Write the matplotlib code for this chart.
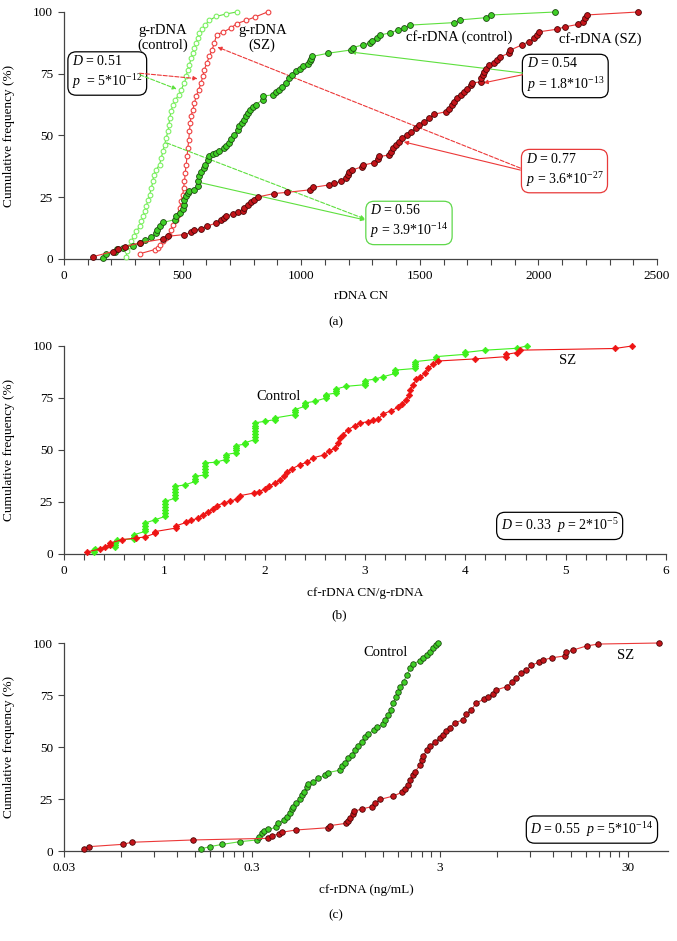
import matplotlib.pyplot as plt
from matplotlib.ticker import FixedLocator, NullFormatter, FixedFormatter

plt.rcParams['font.family'] = ['Liberation Serif', 'DejaVu Serif']
plt.rcParams['mathtext.fontset'] = 'custom'
plt.rcParams['mathtext.rm'] = 'Liberation Serif'
plt.rcParams['mathtext.it'] = 'Liberation Serif:italic'

# ===== DATA =====
# panel (a): rDNA copy number vs cumulative frequency (%)
g_ctrl_x = [263, 265, 277, 284, 294, 305, 319, 326, 333, 340, 347, 354, 361, 368, 375,
            378, 389, 403, 410, 417, 424, 431, 438, 443, 445, 452, 459, 470, 484, 494,
            508, 515, 522, 529, 536, 543, 550, 557, 564, 571, 582, 596, 613, 641, 683, 728]
g_ctrl_y = [1, 3.1, 5.1, 7.2, 9.2, 11.2, 13.2, 15.2, 17.3, 19.3, 21.3, 24, 26, 28.7, 31.4,
            34.1, 36.2, 38.2, 40.9, 43.6, 46.3, 49, 51.7, 54.4, 57.1, 59.8, 62.5, 64.5, 66.5, 68.6,
            71.3, 74, 76.7, 78.7, 81.4, 83.4, 85.4, 87.4, 89.5, 91.5, 93.1, 94.9, 96.6, 98.2, 99.2, 100]

g_sz_x = [322, 382, 396, 406, 417, 431, 443, 452, 459, 473, 480, 487, 494, 501, 504,
          508, 511, 515, 519, 522, 526, 529, 532, 536, 543, 550, 557, 568, 578, 585,
          592, 602, 613, 624, 634, 643, 669, 704, 728, 767, 806, 858]
g_sz_y = [2.2, 3.8, 4.5, 5.8, 7.2, 8.5, 9.9, 11.9, 13.9, 15.9, 17.9, 20.6, 23.3, 26, 28.7,
          31.4, 34.8, 38.2, 41.6, 44.9, 48.3, 51.7, 55.1, 57.8, 60.5, 63.2, 65.9, 68.6, 71.3, 74,
          76.7, 79.4, 82, 84.7, 87.4, 90.8, 91.8, 93.5, 95.3, 96.6, 98, 100]

cf_ctrl_x = [166, 177, 215, 222, 250, 291, 319, 340, 368, 389, 393, 403, 417, 466, 473,
             487, 501, 508, 508, 515, 522, 529, 550, 564, 566, 571, 578, 592, 596, 606,
             613, 627, 641, 655, 676, 683, 697, 704, 718, 732, 739, 750, 760, 767, 774,
             784, 795, 809, 837, 837, 882, 893, 907, 921, 935, 949, 963, 977, 994, 1008,
             1029, 1036, 1043, 1046, 1113, 1208, 1218, 1260, 1288, 1298, 1320, 1334, 1376, 1407, 1435,
             1460, 1645, 1669, 1778, 1802, 2072]
cf_ctrl_y = [0.5, 2, 3, 4, 4.6, 5.4, 6.5, 7.6, 8.9, 10.5, 11.9, 13.2, 14.8, 15.9, 17.3,
             18.6, 20.2, 22, 24, 25.4, 26.7, 27.4, 28.1, 29.4, 31.4, 33.5, 35.1, 36.8, 38.2, 40.2,
             41.8, 42.6, 42.9, 43.6, 44.9, 45.9, 47, 48.6, 50.3, 52.4, 53.7, 55.1, 56.4, 57.8, 59.1,
             60.5, 61.5, 62.5, 64.5, 65.9, 66.5, 67.5, 68.3, 69.6, 71.3, 73.3, 74.6, 76, 77, 78,
             79, 80, 81, 82, 83.3, 84.6, 85.6, 86.7, 87.4, 88.4, 89.6, 90.7, 91.6, 92.7, 93.4,
             94.7, 95.7, 96.8, 97.7, 98.8, 100]

cf_sz_x = [124, 205, 229, 257, 319, 417, 438, 508, 536, 550, 578, 602, 641, 662, 676,
           683, 711, 732, 753, 760, 774, 788, 802, 816, 886, 942, 1036, 1050, 1118, 1139,
           1168, 1189, 1196, 1203, 1214, 1258, 1261, 1308, 1322, 1329, 1371, 1378, 1388, 1399, 1413,
           1427, 1448, 1462, 1483, 1497, 1518, 1539, 1560, 1609, 1623, 1634, 1644, 1658, 1672, 1686,
           1700, 1714, 1721, 1756, 1760, 1766, 1770, 1777, 1791, 1812, 1826, 1840, 1875, 1882, 1931,
           1959, 1980, 1994, 2004, 2077, 2112, 2168, 2189, 2196, 2203, 2420]
cf_sz_y = [1, 3, 4, 5, 6.5, 8.1, 9.2, 9.9, 10.8, 11.6, 12.3, 13.2, 14.6, 15.7, 16.6,
           17.3, 18.2, 18.9, 19.6, 20.6, 22, 22.9, 24, 25.1, 26.5, 27, 28, 29, 30, 30.7,
           31.4, 32.7, 34, 35.4, 36, 37.4, 38, 39, 40.4, 41.5, 42.1, 43.5, 44.8, 46.2, 47.5,
           48.9, 50.2, 51.5, 52.9, 54.2, 55.6, 56.9, 58.6, 59.6, 60.9, 62.3, 63.6, 65, 66.3, 67.7,
           69, 70.4, 71.3, 71.7, 73.1, 74.4, 75.8, 77.1, 78.5, 79.2, 80.5, 81.9, 83.3, 84.6, 86.7,
           88, 89.4, 90.7, 92, 93, 94, 95, 96, 97.5, 98.8, 100]

# panel (b): cf-rDNA CN / g-rDNA ratio
b_ctrl_x = [0.30, 0.30, 0.31, 0.51, 0.51, 0.51, 0.53, 0.70, 0.70, 0.70,
            0.81, 0.81, 0.81, 0.81, 0.91, 1.01, 1.01, 1.01, 1.01, 1.01, 1.01,
            1.11, 1.11, 1.11, 1.11, 1.11, 1.21, 1.31, 1.31, 1.31,
            1.41, 1.41, 1.41, 1.41, 1.41, 1.51, 1.61, 1.61, 1.61,
            1.71, 1.71, 1.71, 1.71, 1.80, 1.80, 1.90, 1.90, 1.90, 1.90, 1.90, 1.90, 1.90,
            2.00, 2.10, 2.10, 2.30, 2.30, 2.30, 2.40, 2.40, 2.40, 2.50,
            2.61, 2.61, 2.61, 2.71, 2.71, 2.71, 2.81, 3.00, 3.00, 3.00, 3.10, 3.18,
            3.30, 3.30, 3.30, 3.50, 3.50, 3.50, 3.50, 3.71, 3.71, 4.00, 4.00, 4.20, 4.51, 4.61]
b_ctrl_y = [1.0, 1.8, 2.4, 3.4, 4.4, 5.3, 6.9, 7.2, 8.3, 9.3,
            10.9, 12.2, 13.6, 14.9, 16.5, 18.1, 19.6, 21.1, 22.6, 24.0, 25.3,
            26.9, 28.3, 29.7, 31.1, 32.5, 33.3, 34.9, 36.1, 37.3,
            38.1, 39.5, 41.0, 42.4, 43.8, 44.1, 45.4, 46.6, 47.8,
            48.6, 49.8, 51.0, 52.1, 52.8, 53.4, 55.0, 56.3, 57.7, 59.0, 60.4, 61.7, 63.0,
            63.8, 64.6, 65.4, 67.0, 68.2, 69.4, 71.0, 71.8, 72.6, 73.4,
            75.0, 75.8, 76.6, 77.4, 78.3, 79.3, 80.6, 81.4, 82.4, 83.4, 84.1, 85.2,
            86.8, 87.6, 88.4, 89.2, 90.3, 91.4, 92.5, 93.6, 94.9, 96.0, 96.9, 98.0, 98.9, 100]

b_sz_x = [0.23, 0.36, 0.41, 0.46, 0.46, 0.58, 0.72, 0.81, 0.91, 0.91,
          1.12, 1.12, 1.22, 1.27, 1.34, 1.39, 1.44, 1.49, 1.52, 1.59,
          1.65, 1.72, 1.75, 1.89, 1.94, 2.00, 2.04, 2.10, 2.15, 2.19,
          2.22, 2.27, 2.35, 2.42, 2.48, 2.59, 2.64, 2.70, 2.73, 2.75,
          2.78, 2.83, 2.90, 2.95, 3.03, 3.08, 3.13, 3.18, 3.26, 3.33,
          3.37, 3.41, 3.44, 3.45, 3.48, 3.51, 3.55, 3.60, 3.63, 3.68,
          3.73, 4.10, 4.41, 4.41, 4.51, 4.54, 5.49, 5.66]
b_sz_y = [1.0, 2.4, 3.4, 4.5, 5.3, 6.9, 7.7, 8.2, 10.0, 10.8,
          12.5, 13.6, 15.2, 16.2, 17.3, 18.9, 20.2, 21.8, 23.2, 24.5,
          25.3, 26.4, 28.0, 29.3, 30.0, 31.2, 32.5, 34.1, 35.4, 37.3,
          39.3, 40.9, 42.9, 44.1, 46.2, 47.6, 49.4, 51.0, 53.4, 55.8,
          57.4, 59.8, 61.7, 63.0, 63.6, 64.2, 64.7, 67.3, 68.9, 70.5,
          72.1, 74.0, 76.4, 78.8, 81.2, 83.9, 85.2, 86.8, 89.2, 91.2,
          92.8, 93.8, 94.9, 96.0, 96.8, 98.0, 98.8, 100]

# panel (c): cf-rDNA concentration (ng/mL)
c_ctrl_x = [0.16, 0.179, 0.209, 0.259, 0.318, 0.328, 0.338, 0.347, 0.366, 0.405,
            0.414, 0.444, 0.459, 0.478, 0.488, 0.498, 0.514, 0.539, 0.551, 0.568,
            0.586, 0.598, 0.636, 0.676, 0.733, 0.763, 0.881, 0.899, 0.937, 0.976,
            1.017, 1.06, 1.095, 1.15, 1.20, 1.25, 1.33, 1.38, 1.50, 1.53,
            1.59, 1.64, 1.69, 1.75, 1.80, 1.84, 1.92, 2.00, 2.08, 2.15,
            2.35, 2.45, 2.55, 2.66, 2.77, 2.86, 2.94]
c_ctrl_y = [1.0, 2.1, 3.2, 4.5, 5.3, 6.9, 8.5, 9.8, 10.4, 11.4,
            13.3, 14.9, 16.5, 18.1, 20.0, 21.3, 22.9, 24.8, 26.9, 28.5,
            30.6, 32.2, 33.3, 34.9, 36.5, 37.7, 38.9, 40.9, 42.5, 44.6,
            46.2, 48.6, 50.5, 52.6, 54.6, 56.3, 58.2, 59.5, 61.1, 63.0,
            65.4, 67.8, 71.0, 73.9, 76.6, 79.0, 81.4, 84.6, 87.8, 89.9,
            91.5, 92.6, 94.2, 95.8, 97.4, 99.0, 100]

c_sz_x = [0.0383, 0.0409, 0.0615, 0.0687, 0.145, 0.366, 0.384, 0.418, 0.431, 0.514,
          0.763, 0.78, 0.949, 0.976, 0.996, 1.03, 1.05, 1.149, 1.30, 1.35,
          1.44, 1.69, 1.88, 1.95, 2.04, 2.09, 2.16, 2.21, 2.35, 2.40,
          2.45, 2.55, 2.66, 2.82, 3.00, 3.12, 3.25, 3.38, 3.60, 3.98,
          4.15, 4.41, 4.69, 5.14, 5.42, 5.72, 5.96, 6.79, 7.21, 7.66,
          8.13, 8.65, 9.2, 10.1, 10.6, 11.8, 13.9, 14.1, 15.3, 18.1,
          20.9, 44.0]
c_sz_y = [0.8, 2.1, 3.2, 4.2, 5.3, 6.1, 7.4, 8.2, 9.0, 10.1,
          11.2, 12.2, 13.3, 14.4, 15.7, 17.8, 19.1, 20.2, 21.3, 22.9,
          24.8, 26.4, 28.2, 29.6, 31.7, 34.1, 36.5, 38.1, 41.3, 43.8,
          45.7, 48.6, 50.5, 52.6, 54.2, 55.8, 57.9, 59.3, 61.7, 63.0,
          65.9, 67.8, 71.3, 72.9, 74.2, 75.5, 77.4, 79.0, 81.1, 83.0,
          85.4, 87.0, 89.4, 90.7, 91.8, 92.9, 93.8, 95.5, 96.6, 98.6,
          99.5, 100]

y_ticks = [0, 25, 50, 75, 100]

# ===== COLOURS =====
LINE_G = "#5ee03e"
LINE_R = "#ec3838"
OPEN_G = "#7cf062"
OPEN_R = "#ee4040"
FILL_G = "#3fcf26"
EDGE_G = "#1d4a12"
FILL_R = "#c4141a"
EDGE_R = "#4a0606"
DIAM_G = "#3ef01c"
DIAM_R = "#ee1414"
AXIS_C = "#444444"

W, H = 677, 941
fig = plt.figure(figsize=(W / 100, H / 100), dpi=100)


def px_axes(left, top, right, bottom):
    return fig.add_axes([left / W, 1 - bottom / H, (right - left) / W, (bottom - top) / H])


def style(ax, ylab_x):
    for s in ["top", "right"]:
        ax.spines[s].set_visible(False)
    for s in ["left", "bottom"]:
        ax.spines[s].set_color(AXIS_C)
        ax.spines[s].set_linewidth(0.9)
    ax.set_ylim(0, 100)
    ax.set_yticks(y_ticks)
    ax.tick_params(axis="both", which="both", direction="out", color=AXIS_C,
                   labelsize=9.5, pad=4)
    ax.tick_params(axis="both", which="major", length=4, width=0.8)
    ax.tick_params(axis="x", which="minor", length=4, width=0.8)
    ax.set_ylabel("Cumulative frequency (%)", fontsize=9.5)
    ax.yaxis.set_label_coords(ylab_x, 0.5)


def boxed(ax, x, y, s, edge, ha="left"):
    ax.text(x, y, s, ha=ha, va="center", fontsize=10, linespacing=1.3,
            bbox=dict(boxstyle="round,pad=0.3,rounding_size=0.6", fc="white",
                      ec=edge, lw=0.9))


def arrow(ax, start, end, color, ls="-", head=True):
    ax.annotate("", xy=end, xytext=start,
                arrowprops=dict(arrowstyle="-|>" if head else "-", color=color, lw=0.8,
                                linestyle=ls, mutation_scale=6, shrinkA=0, shrinkB=0))


# ===== PANEL (a) =====
ax = px_axes(64, 12, 657, 259)
style(ax, -0.083)
ax.set_xlim(0, 2500)
ax.set_xticks(range(0, 2501, 500))
ax.xaxis.set_minor_locator(FixedLocator(range(0, 2501, 100)))
ax.set_xlabel("rDNA CN", fontsize=9.5, labelpad=6)

ax.plot(g_ctrl_x, g_ctrl_y, "-o", color=LINE_G, lw=0.8, ms=3.4, mfc="white",
        mec=OPEN_G, mew=0.8, clip_on=False, zorder=3)
ax.plot(g_sz_x, g_sz_y, "-o", color=LINE_R, lw=0.8, ms=3.4, mfc="white",
        mec=OPEN_R, mew=0.8, clip_on=False, zorder=3)
ax.plot(cf_ctrl_x, cf_ctrl_y, "-o", color=LINE_G, lw=0.8, ms=4.2, mfc=FILL_G,
        mec=EDGE_G, mew=0.6, clip_on=False, zorder=4)
ax.plot(cf_sz_x, cf_sz_y, "-o", color=LINE_R, lw=0.8, ms=4.2, mfc=FILL_R,
        mec=EDGE_R, mew=0.6, clip_on=False, zorder=4)

ax.text(416, 89.5, "g-rDNA\n(control)", ha="center", va="center", fontsize=10.5, linespacing=1.1)
ax.text(836, 89.5, "g-rDNA\n(SZ)", ha="center", va="center", fontsize=10.5, linespacing=1.1)
ax.text(1664, 89.9, "cf-rDNA (control)", ha="center", va="center", fontsize=10.5)
ax.text(2261, 89.1, "cf-rDNA (SZ)", ha="center", va="center", fontsize=10.5)

boxed(ax, 34, 75.5, "$D$ = 0.51\n$p$  = 5*10$^{-12}$", "black")
boxed(ax, 1950, 74.5, "$D$ = 0.54\n$p$ = 1.8*10$^{-13}$", "black")
boxed(ax, 1946, 36, "$D$ = 0.77\n$p$ = 3.6*10$^{-27}$", "#e83a3a")
boxed(ax, 1290, 15, "$D$ = 0.56\n$p$ = 3.9*10$^{-14}$", "#5ed84a")

arrow(ax, (319, 75.2), (563, 73.0), LINE_R, "--")
arrow(ax, (319, 74.6), (475, 68.8), LINE_G, "--")
arrow(ax, (1933, 75.3), (1210, 83.8), LINE_G)
arrow(ax, (1933, 74.6), (1769, 71.3), LINE_R)
arrow(ax, (1924, 36.8), (647, 85.8), LINE_R, "--")
arrow(ax, (1924, 36.0), (1433, 47.4), LINE_R)
arrow(ax, (433, 47.0), (1269, 16.2), LINE_G, "--")
arrow(ax, (580, 30.8), (1269, 15.8), LINE_G)

fig.text(336 / W, 1 - 322 / H, "(a)", ha="center", va="center", fontsize=9.5)

# ===== PANEL (b) =====
ax = px_axes(64, 346, 666, 554)
style(ax, -0.081)
ax.set_xlim(0, 6)
ax.set_xticks(range(0, 7))
ax.xaxis.set_minor_locator(FixedLocator([i * 0.2 for i in range(31)]))
ax.set_xlabel("cf-rDNA CN/g-rDNA", fontsize=9.5, labelpad=7)

ax.plot(b_ctrl_x, b_ctrl_y, "-D", color=DIAM_G, lw=0.8, ms=3.3, mfc=DIAM_G,
        mec=DIAM_G, mew=0.5, clip_on=False, zorder=3)
ax.plot(b_sz_x, b_sz_y, "-D", color=DIAM_R, lw=0.8, ms=3.3, mfc=DIAM_R,
        mec=DIAM_R, mew=0.5, clip_on=False, zorder=4)

ax.text(2.14, 75.5, "Control", ha="center", va="center", fontsize=10.5)
ax.text(5.02, 92.8, "SZ", ha="center", va="center", fontsize=10.5)
boxed(ax, 4.94, 13.5, "$D$ = 0.33  $p$ = 2*10$^{-5}$", "black", ha="center")

fig.text(339 / W, 1 - 615 / H, "(b)", ha="center", va="center", fontsize=9.5)

# ===== PANEL (c) =====
ax = px_axes(64, 643, 668, 851)
style(ax, -0.081)
ax.set_xscale("log")
ax.set_xlim(0.03, 49)
ax.xaxis.set_major_locator(FixedLocator([0.03, 0.3, 3, 30]))
ax.xaxis.set_major_formatter(FixedFormatter(["0.03", "0.3", "3", "30"]))
minor = [0.03 * k * 10 ** n for n in range(4) for k in range(2, 10) if 0.03 * k * 10 ** n < 49]
ax.xaxis.set_minor_locator(FixedLocator(minor))
ax.xaxis.set_minor_formatter(NullFormatter())
ax.set_xlabel("cf-rDNA (ng/mL)", fontsize=9.5, labelpad=7)

ax.plot(c_ctrl_x, c_ctrl_y, "-o", color=LINE_G, lw=0.8, ms=4.0, mfc=FILL_G,
        mec=EDGE_G, mew=0.6, clip_on=False, zorder=3)
ax.plot(c_sz_x, c_sz_y, "-o", color=LINE_R, lw=0.8, ms=4.0, mfc=FILL_R,
        mec=EDGE_R, mew=0.6, clip_on=False, zorder=4)

ax.text(1.55, 95.2, "Control", ha="center", va="center", fontsize=10.5)
ax.text(29.3, 94.2, "SZ", ha="center", va="center", fontsize=10.5)
boxed(ax, 19.3, 10.3, "$D$ = 0.55  $p$ = 5*10$^{-14}$", "black", ha="center")

fig.text(336 / W, 1 - 915 / H, "(c)", ha="center", va="center", fontsize=9.5)

fig.savefig("out.png", dpi=100, facecolor="white")
